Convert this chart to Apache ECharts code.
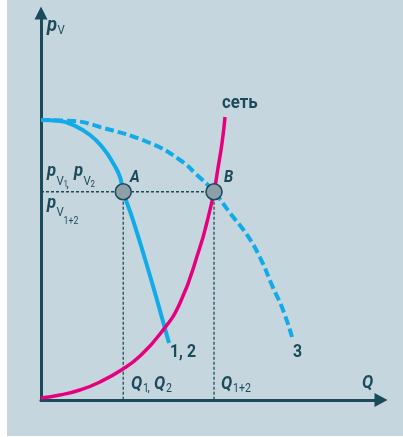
<!DOCTYPE html>
<html>
<head>
<meta charset="utf-8">
<script src="https://cdn.jsdelivr.net/npm/echarts@6/dist/echarts.min.js"></script>
<style>
  html, body { margin: 0; padding: 0; background: #fff; }
  #chart { width: 403px; height: 437px; }
</style>
</head>
<body>
<div id="chart"></div>
<script>
// pump curves 1,2 (solid) and 3 (dashed), network curve "сеть"
const pump12Q = [0, 5.48, 9.22, 14.12, 17.87, 20.76, 22.77, 23.7, 26.52, 29.98, 33.44, 36.90];
const pump12P = [71.27, 71.01, 69.99, 67.45, 64.14, 60.32, 56.76, 53.0, 45.81, 35.89, 25.45, 14.51];
const pump3Q = [0, 9.22, 17.01, 31.42, 40.07, 44.97, 49.87, 54.48, 59.38, 63.13, 66.87, 69.76, 72.36];
const pump3P = [71.27, 71.01, 69.49, 65.41, 61.08, 57.27, 53.0, 47.6, 42.0, 36.25, 28.6, 22.91, 16.03];
const netQ = [0, 5.48, 11.24, 17.01, 23.64, 28.54, 34.30, 40.07, 45.83, 47.85, 49.87, 51.02, 52.18, 53.04];
const netP = [0.51, 1.27, 2.55, 4.58, 7.89, 11.2, 16.8, 24.69, 38.94, 45.3, 53.0, 59.05, 65.41, 72.03];
// operating points A, B
const pointNames = ['A', 'B'];
const pointQ = [23.7, 49.87];
const pointP = [53.0, 53.0];

const DARK = '#1b4a5b';
const BLUE = '#11ace8';
const PINK = '#e5007e';

const zip = (a, b) => a.map((v, i) => [v, b[i]]);

// text helper: x, y = left / vertical middle
function txt(x, y, text, size, weight, style) {
    return {
        type: 'text', x: x, y: y, scaleX: 0.88, z: 100, silent: true,
        style: {
            text: text, x: 0, y: 0, fill: DARK,
            font: (style || 'normal') + ' ' + (weight || 'normal') + ' ' + size + 'px Roboto',
            verticalAlign: 'middle', align: 'left'
        }
    };
}

const guides = [
    [[0, pointP[0]], [pointQ[1], pointP[1]]],
    [[pointQ[0], pointP[0]], [pointQ[0], 0]],
    [[pointQ[1], pointP[1]], [pointQ[1], 0]]
];

const curve = (q, p, color, width, type) => ({
    type: 'line', data: zip(q, p), smooth: 0.5, symbol: 'none', z: 3,
    lineStyle: { color: color, width: width, type: type || 'solid' }
});

const chart = echarts.init(document.getElementById('chart'));
chart.setOption({
    animation: false,
    backgroundColor: '#ffffff',
    grid: { left: 41, right: 22, top: 13, bottom: 37 },
    xAxis: {
        type: 'value', min: 0, max: 98,
        splitLine: { show: false }, axisTick: { show: false }, axisLabel: { show: false },
        axisLine: { show: true, symbol: ['none', 'triangle'], symbolSize: [14, 13],
            lineStyle: { color: DARK, width: 3 } }
    },
    yAxis: {
        type: 'value', min: 0, max: 98.5,
        splitLine: { show: false }, axisTick: { show: false }, axisLabel: { show: false },
        axisLine: { show: true, symbol: ['none', 'triangle'], symbolSize: [13, 13],
            lineStyle: { color: DARK, width: 3 } }
    },
    series: guides.map(g => ({
        type: 'line', data: g, symbol: 'none', silent: true, z: 1,
        lineStyle: { color: DARK, width: 1.3, type: [3, 2] }
    })).concat([
        curve(pump3Q, pump3P, BLUE, 4, [9, 4]),
        curve(pump12Q, pump12P, BLUE, 4),
        curve(netQ, netP, PINK, 3.5),
        {
            type: 'scatter', data: zip(pointQ, pointP), symbolSize: 16, z: 5,
            itemStyle: { color: '#8da0aa', borderColor: DARK, borderWidth: 1.6, opacity: 1 }
        }
    ]),
    graphic: [
        { type: 'rect', silent: true, z: -10, shape: { x: 7, y: 0, width: 396, height: 436 },
          style: { fill: '#c6d6df' } },
        // axis names
        txt(47, 26, 'p', 21, 'bold', 'italic'), txt(57.5, 31, 'V', 13),
        txt(362, 383, 'Q', 19, 'bold', 'italic'),
        // pressure labels
        txt(47, 171, 'p', 19, 'bold', 'italic'), txt(56.5, 182, 'V', 13), txt(63.5, 185, '1', 9),
        txt(66.5, 184, ',', 13),
        txt(74, 171, 'p', 19, 'bold', 'italic'), txt(83.5, 182, 'V', 13), txt(90.5, 185, '2', 9),
        txt(47, 203, 'p', 19, 'bold', 'italic'), txt(56.5, 213, 'V', 13), txt(63.5, 221, '1+2', 10),
        // flow labels
        txt(131, 384, 'Q', 19, 'bold', 'italic'), txt(143, 389, '1', 12), txt(147.5, 388, ',', 13),
        txt(154, 384, 'Q', 19, 'bold', 'italic'), txt(166, 389, '2', 12),
        txt(221, 384, 'Q', 19, 'bold', 'italic'), txt(233, 389, '1+2', 12),
        // points and curves
        txt(130, 178, pointNames[0], 17, 'bold', 'italic'),
        txt(224, 177.5, pointNames[1], 17, 'bold', 'italic'),
        txt(222, 103, 'сеть', 19, 'bold'),
        txt(170, 352, '1, 2', 18, 'bold'),
        txt(293, 352, '3', 18, 'bold')
    ]
});
</script>
</body>
</html>
